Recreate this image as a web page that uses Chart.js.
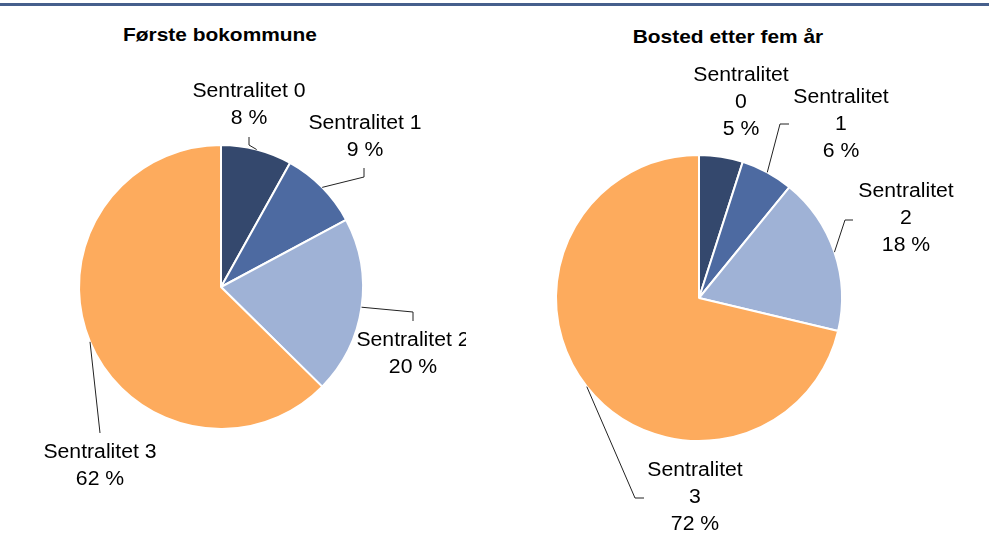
<!DOCTYPE html>
<html lang="no">
<head>
  <meta charset="UTF-8" />
  <title>Sentralitet</title>
  <script src="https://cdn.jsdelivr.net/npm/chart.js"></script>
  <style>
    body {
      margin: 0;
      width: 989px;
      height: 544px;
      background: #fff;
      position: relative;
      overflow: hidden;
      font-family: 'Liberation Sans', Arial, sans-serif;
    }
    .topline {
      position: absolute;
      left: 0; top: 3px;
      width: 989px; height: 3px;
      background: #465f8c;
    }
    .title {
      position: absolute;
      font-weight: bold;
      font-size: 19px;
      color: #000;
      transform: translateX(-50%) scaleX(1.1);
      white-space: nowrap;
    }
    canvas { position: absolute; top: 0; }
  </style>
</head>
<body>
  <div class="topline"></div>
  <div class="title" style="left:220px; top:24px;">Første bokommune</div>
  <div class="title" style="left:728px; top:26px;">Bosted etter fem år</div>
  <canvas id="pie1" width="466" height="544" style="left:0"></canvas>
  <canvas id="pie2" width="509" height="544" style="left:480px"></canvas>

  <script>
    const categories = ['Sentralitet 0', 'Sentralitet 1', 'Sentralitet 2', 'Sentralitet 3'];
    const forsteBokommune = [8, 9, 20, 62];
    const bostedEtterFemAar = [5, 6, 18, 72];
    const colors = ['#34486d', '#4d6aa1', '#9fb2d6', '#fdab5d'];

    // label placement (canvas px): text centre x, first line y, leader bend points
    const labels1 = [
      { x: 249, y: 91, path: [[249, 145], [249, 137]] },
      { x: 365, y: 123, path: [[364, 177], [364, 168]] },
      { x: 413, y: 340, path: [[413, 312], [413, 321]] },
      { x: 100, y: 452, path: [[100, 433]] }
    ];
    const labels2 = [
      { x: 261, y: 75, split: true, path: null },
      { x: 361, y: 97, split: true, path: [[300, 124], [309, 124]] },
      { x: 426, y: 191, split: true, path: [[365, 220], [373, 220]] },
      { x: 215, y: 470, split: true, path: [[155, 498], [164, 498]] }
    ];

    const labelPlugin = {
      id: 'sliceLabels',
      afterDraw(chart, args, opts) {
        const ctx = chart.ctx;
        const meta = chart.getDatasetMeta(0);
        const values = chart.data.datasets[0].data;
        ctx.save();
        meta.data.forEach((arc, i) => {
          const cfg = opts.place[i];
          const p = arc.getProps(['x', 'y', 'startAngle', 'endAngle', 'outerRadius'], true);
          const mid = (p.startAngle + p.endAngle) / 2;
          if (cfg.path) {
            ctx.beginPath();
            ctx.strokeStyle = '#222';
            ctx.lineWidth = 1;
            ctx.moveTo(p.x + Math.cos(mid) * p.outerRadius, p.y + Math.sin(mid) * p.outerRadius);
            cfg.path.forEach(pt => ctx.lineTo(pt[0], pt[1]));
            ctx.stroke();
          }
          const name = chart.data.labels[i];
          const lines = cfg.split ? name.split(' ') : [name];
          lines.push(values[i] + ' %');
          ctx.fillStyle = '#000';
          ctx.font = '20px "Liberation Sans", Arial, sans-serif';
          ctx.textAlign = 'center';
          ctx.textBaseline = 'middle';
          lines.forEach((t, k) => {
            ctx.save();
            ctx.translate(cfg.x, cfg.y + k * 27);
            ctx.scale(1.06, 1);
            ctx.fillText(t, 0, 0);
            ctx.restore();
          });
        });
        ctx.restore();
      }
    };

    function makePie(id, values, place, pad) {
      new Chart(document.getElementById(id), {
        type: 'pie',
        data: {
          labels: categories,
          datasets: [{
            data: values,
            backgroundColor: colors,
            borderColor: '#fff',
            borderWidth: 2
          }]
        },
        options: {
          responsive: false,
          animation: false,
          layout: { padding: pad },
          plugins: {
            legend: { display: false },
            tooltip: { enabled: false },
            sliceLabels: { place: place }
          }
        },
        plugins: [labelPlugin]
      });
    }

    makePie('pie1', forsteBokommune, labels1, { left: 78, top: 144, right: 102, bottom: 114 });
    makePie('pie2', bostedEtterFemAar, labels2, { left: 75, top: 154, right: 146, bottom: 102 });
  </script>
</body>
</html>
